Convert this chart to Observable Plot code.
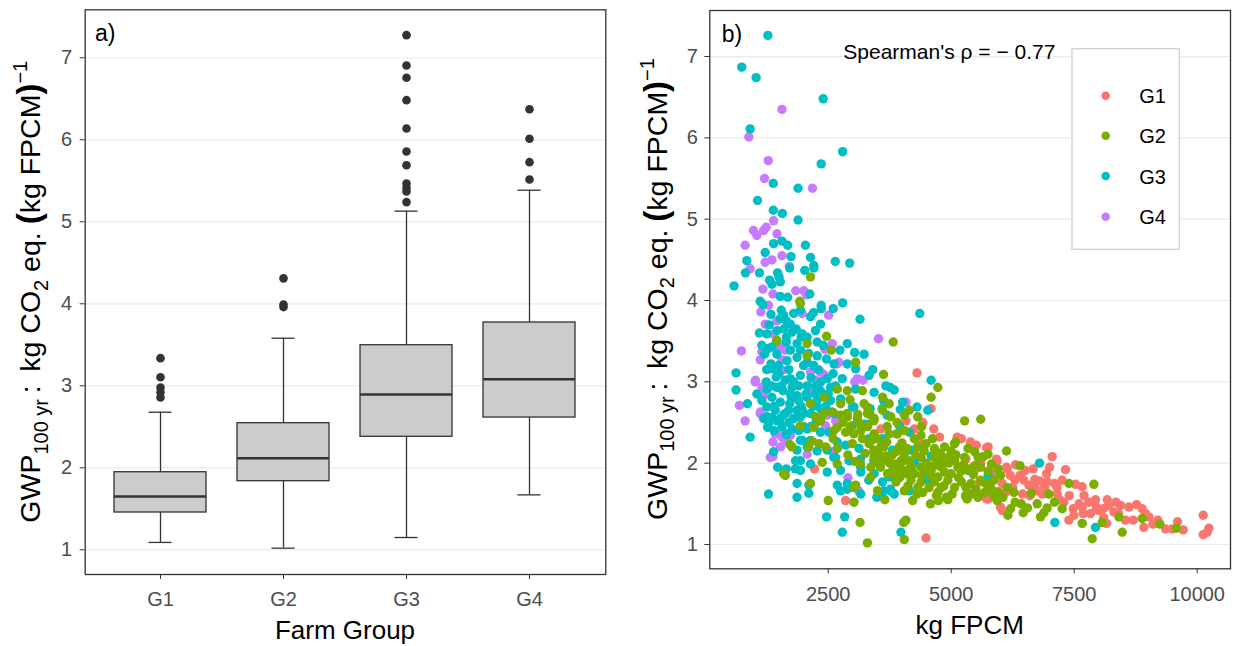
<!DOCTYPE html>
<html><head><meta charset="utf-8">
<script src="https://cdn.jsdelivr.net/npm/d3@7"></script>
<script src="https://cdn.jsdelivr.net/npm/@observablehq/plot@0.6"></script>
<style>
body{margin:0;background:#fff;font-family:"Liberation Sans",Arial,Helvetica,sans-serif}
#wrap{position:relative;width:1238px;height:646px;overflow:hidden}
#a{position:absolute;left:0;top:0}
#b{position:absolute;left:620px;top:0}
</style></head>
<body><div id="wrap"><div id="a"></div><div id="b"></div></div>
<script>
const FONT = '"Liberation Sans", Arial, Helvetica, sans-serif';
const groups = ["G1","G2","G3","G4"];
const groupColors = ["#F8766D","#7CAE00","#00BFC4","#C77CFF"];
const yTicks = [1,2,3,4,5,6,7];
const xTicksB = [2500,5000,7500,10000];

// box plot statistics (panel a)
const boxLow  = [1.09, 1.02, 1.15, 1.67];
const boxQ1   = [1.455, 1.837, 2.378, 2.613];
const boxMed  = [1.65, 2.117, 2.894, 3.08];
const boxQ3   = [1.946, 2.544, 3.495, 3.772];
const boxHigh = [2.678, 3.58, 5.13, 5.385];
const outG1 = [3.337, 3.105, 2.98, 2.92, 2.857];
const outG2 = [4.31, 3.99, 3.96];
const outG3 = [7.276, 6.906, 6.756, 6.483, 6.138, 5.857, 5.69, 5.467, 5.415, 5.37, 5.24];
const outG4 = [6.373, 6.012, 5.727, 5.516];

// scatter points (panel b): [kg FPCM, GWP]
const ptsG1 = [[4305,3.11],[4591,2.67],[4080,2.52],[4421,2.50],[3570,2.42],[4251,2.42],[4762,2.32],[5205,2.30],[5511,2.22],[5750,2.20],[5920,2.05],[2221,1.93],[2854,1.54],[4489,1.08],[5579,1.77],[5750,1.56],[5393,2.26],[5718,2.19],[6125,1.95],[6308,1.98],[6511,1.91],[6667,1.93],[7053,2.08],[6938,1.87],[7324,1.92],[7256,1.79],[7527,1.74],[7663,1.71],[6477,1.79],[6579,1.73],[6680,1.73],[6748,1.66],[6850,1.62],[7154,1.62],[7209,1.55],[7290,1.52],[7480,1.44],[7663,1.46],[7798,1.52],[7934,1.55],[8171,1.55],[8090,1.44],[8306,1.40],[8442,1.48],[8611,1.46],[8767,1.49],[8882,1.44],[7683,1.38],[7493,1.36],[7392,1.30],[7832,1.38],[8002,1.42],[8158,1.26],[8543,1.30],[8916,1.21],[9018,1.34],[9200,1.30],[9356,1.19],[9492,1.19],[9715,1.18],[10122,1.36],[10122,1.12],[10237,1.20],[10203,1.15],[6037,1.75],[5718,1.56],[6104,1.64],[6037,1.42],[6294,1.79],[4646,2.42],[4341,2.26],[5122,2.32],[6002,1.46],[5935,2.03],[6138,1.93],[6951,1.77],[6400,1.85],[6700,1.80],[6900,1.70],[7100,1.75],[6600,1.60],[7400,1.60],[7000,1.95],[8400,1.38],[8700,1.30],[7700,1.60],[8200,1.48],[5300,2.05],[5600,2.00],[5850,1.88],[6200,1.85],[6250,1.70],[6450,1.62],[7150,1.70],[7600,1.50],[7950,1.46],[8100,1.33],[8350,1.52],[8950,1.38],[9100,1.25],[9600,1.28],[5480,1.92],[6800,1.78]];
const ptsG2 = [[2139,4.29],[1935,3.96],[1921,3.99],[2466,3.56],[3822,3.49],[1458,3.51],[2071,3.47],[2561,3.39],[2071,3.32],[3058,3.24],[3624,3.09],[4728,2.93],[4591,2.81],[2684,2.91],[2888,2.89],[3195,2.89],[3604,2.81],[2139,2.73],[2425,2.81],[2752,2.73],[2943,2.78],[3229,2.73],[3740,2.73],[4148,2.65],[2241,2.57],[2412,2.61],[2582,2.63],[2752,2.59],[2888,2.57],[3093,2.55],[3297,2.61],[3433,2.55],[3604,2.65],[3774,2.57],[4046,2.59],[4319,2.57],[5273,2.52],[5600,2.54],[1935,2.46],[2207,2.44],[2684,2.44],[2854,2.38],[3161,2.40],[3433,2.36],[3740,2.36],[3897,2.36],[4387,2.34],[1717,2.23],[1764,2.20],[2105,2.20],[2309,2.24],[2684,2.18],[2990,2.24],[3195,2.30],[3331,2.24],[3570,2.20],[3672,2.09],[3945,2.20],[4046,2.11],[4319,2.20],[4489,2.24],[4660,2.18],[4864,2.20],[5069,2.24],[1594,1.87],[2139,1.75],[2377,2.01],[2684,1.99],[3365,1.83],[3058,1.73],[3024,1.52],[2500,1.54],[3147,1.27],[3297,1.02],[1628,1.85],[3502,1.66],[3652,1.55],[3467,2.01],[3365,1.95],[3808,1.91],[3842,1.99],[4080,1.87],[4182,1.79],[4217,1.54],[4421,1.64],[4578,1.50],[4741,1.54],[4932,1.55],[4080,1.30],[4033,1.27],[4046,1.06],[4387,1.95],[4591,1.91],[4728,1.83],[4251,1.87],[4999,1.87],[5137,1.95],[5205,1.77],[5477,1.97],[5273,2.07],[5545,2.07],[5750,2.11],[5409,1.62],[5681,1.64],[5886,1.58],[4932,2.07],[4796,2.03],[4660,2.07],[3433,2.07],[3604,2.03],[3978,2.03],[4148,2.03],[4387,2.07],[4660,1.97],[4864,1.89],[5069,2.03],[5341,2.18],[5477,2.14],[5613,2.07],[5818,1.99],[5954,1.93],[3978,1.93],[4148,1.93],[3706,1.87],[3876,1.77],[4046,1.66],[4796,1.70],[5069,1.70],[5307,1.58],[5545,1.58],[4728,1.64],[4898,1.58],[4932,1.79],[4387,1.77],[4319,1.70],[4660,1.77],[6125,2.15],[5650,2.08],[5088,2.26],[6396,1.97],[7392,1.75],[7900,1.74],[6626,1.63],[6985,1.62],[7100,1.52],[7256,1.44],[7663,1.26],[8069,1.27],[8408,1.34],[8476,1.15],[7866,1.07],[8882,1.32],[9241,1.25],[9580,1.20],[5359,1.93],[5596,1.79],[5867,1.79],[6003,1.85],[5833,1.66],[5528,1.62],[5325,1.56],[5935,1.54],[6152,1.36],[6206,1.44],[6463,1.39],[6423,1.50],[6816,1.34],[6884,1.39],[6748,1.50],[6138,1.70],[6274,1.64],[5291,1.60],[2175,2.27],[3021,1.70],[2343,2.52],[2614,2.40],[2886,2.61],[3021,2.36],[3427,2.52],[3630,2.20],[3902,2.36],[4037,2.03],[3833,1.87],[3427,2.16],[3563,1.95],[3157,1.99],[3293,2.69],[3800,2.10],[4000,2.25],[4200,1.95],[4500,2.00],[4600,1.85],[4800,1.95],[5000,2.15],[5200,1.90],[5400,1.75],[5600,1.95],[5800,1.70],[4400,1.85],[4700,2.10],[3300,2.45],[3500,2.30],[3900,2.50],[3100,2.60],[2950,2.45],[4250,2.30],[3250,2.12],[3380,2.28],[3520,2.12],[3690,2.26],[3750,2.00],[3880,2.14],[3950,1.82],[4100,2.18],[4120,1.72],[4280,2.10],[4300,1.62],[4450,2.15],[4480,1.90],[4550,1.70],[4620,2.30],[4700,1.60],[4780,2.12],[4850,1.72],[4950,2.00],[5020,1.62],[5100,2.10],[5150,1.82],[5250,1.98],[5300,1.70],[5450,1.86],[5500,1.68],[5700,1.75],[5750,1.90],[5950,1.65],[6050,1.58],[6300,1.52],[6550,1.45],[6950,1.45],[3350,2.60],[3700,2.45],[4050,2.40],[4400,2.45],[3150,2.48],[2800,2.50],[2600,2.30],[2450,2.20],[2900,2.10],[3050,2.02]];
const ptsG3 = [[1274,7.26],[742,6.87],[1035,6.74],[2398,6.48],[913,6.11],[2793,5.83],[2357,5.68],[1383,5.44],[1887,5.38],[1063,5.23],[1383,5.11],[1567,5.07],[1887,4.99],[1390,4.70],[1560,4.73],[1676,4.68],[2037,4.68],[1219,4.59],[1744,4.54],[2139,4.53],[2207,4.43],[2207,4.40],[2643,4.48],[2936,4.46],[845,4.49],[817,4.34],[1104,4.34],[1717,4.40],[1471,4.34],[1499,4.29],[2023,4.37],[586,4.18],[1308,4.25],[1356,4.20],[1526,4.23],[1526,4.05],[1676,4.04],[2125,4.08],[1117,3.99],[1172,3.95],[2357,3.94],[2357,3.90],[2602,3.90],[2793,3.97],[4360,3.84],[1335,3.83],[1546,3.88],[2139,3.80],[3147,3.77],[1935,3.88],[1526,3.78],[1730,3.71],[1458,3.63],[1594,3.65],[1764,3.61],[1969,3.59],[2241,3.63],[2343,3.71],[1356,3.43],[1287,3.41],[1648,3.49],[1866,3.47],[2275,3.49],[2888,3.47],[2738,3.39],[3038,3.36],[3229,3.34],[1206,3.34],[1335,3.22],[1492,3.20],[1662,3.26],[1866,3.30],[2071,3.24],[2275,3.32],[2207,3.20],[2466,3.28],[2616,3.22],[2888,3.22],[3058,3.16],[3406,3.15],[627,3.11],[1356,3.16],[1240,3.00],[1444,3.06],[1730,3.04],[1935,3.08],[2480,3.04],[2786,3.04],[3331,3.08],[3672,2.95],[3761,2.93],[3842,2.90],[4591,3.02],[627,2.90],[1253,2.91],[1458,2.93],[1580,2.89],[1764,2.93],[1900,2.95],[2241,2.95],[2343,2.89],[2548,2.93],[3058,2.91],[3433,2.87],[858,2.73],[1151,2.77],[1356,2.81],[1526,2.75],[1717,2.73],[1900,2.77],[2071,2.81],[2275,2.77],[2548,2.77],[3024,2.69],[3352,2.67],[3624,2.77],[4012,2.75],[4305,2.69],[4523,2.65],[913,2.32],[1185,2.55],[1287,2.48],[1356,2.56],[1526,2.55],[1628,2.61],[1798,2.55],[1935,2.57],[2139,2.61],[2990,2.69],[3965,2.66],[1267,2.44],[1560,2.45],[1764,2.42],[2071,2.42],[2514,2.38],[2990,2.46],[3297,2.48],[3604,2.30],[3945,2.46],[4148,2.38],[1390,2.14],[1935,2.28],[1866,2.16],[2139,2.28],[2275,2.15],[2650,2.07],[2854,2.22],[3127,2.18],[3433,2.14],[3808,2.16],[4182,2.16],[4591,2.09],[1471,1.95],[1648,1.93],[1832,1.93],[1935,2.03],[2139,1.99],[1866,1.75],[2105,1.73],[2480,1.89],[2752,1.91],[2922,2.03],[3161,1.95],[3161,1.89],[2888,1.75],[2684,1.73],[3161,1.62],[2466,1.34],[2834,1.34],[2786,1.15],[1287,1.62],[1866,1.58],[2105,1.63],[3740,1.83],[3604,1.77],[3570,1.64],[3774,1.66],[3842,1.62],[3488,1.58],[4148,1.66],[3978,1.15],[4523,1.79],[5341,1.91],[5750,1.85],[6795,2.00],[7107,1.27],[7934,1.21],[1253,3.59],[1458,3.34],[1730,3.39],[1935,3.39],[2071,3.55],[1594,3.82],[1798,3.84],[1628,3.02],[1866,2.83],[2071,2.95],[1253,2.69],[1424,2.65],[1696,2.65],[1866,2.65],[2003,2.61],[1730,2.85],[2241,2.85],[2343,2.67],[2616,2.61],[2752,2.79],[3706,2.03],[4251,2.01],[3433,1.87],[1937,1.91],[1835,2.03],[2073,2.20],[1972,2.28],[2480,2.16],[2614,2.07],[2953,2.03],[3157,2.05],[3427,2.03],[3325,1.79],[2750,1.66],[2886,1.68],[3630,1.66],[3766,1.68],[1260,2.57],[1463,2.52],[1801,2.55],[1972,2.65],[2343,2.38],[2683,2.26],[3224,2.48],[3325,2.30],[3597,2.67],[3699,2.59],[1100,3.60],[1300,3.70],[1650,3.55],[1850,3.65],[2100,3.35],[2400,3.45],[1500,3.10],[1700,3.15],[1800,3.00],[2000,3.20],[2150,3.05],[2350,3.00],[2600,3.10],[1400,2.70],[1600,2.60],[1950,2.70],[2200,2.70],[1050,2.85],[1350,2.95],[2450,2.70],[1700,2.50],[2000,2.45],[2250,2.50],[1150,3.45],[1250,3.15],[1450,3.50],[1650,3.75],[1950,3.55],[2200,3.85],[1550,2.95],[1750,2.80],[2050,2.85],[2300,3.15],[2500,2.85],[2650,2.95],[1400,2.40],[1650,2.35],[1900,2.40],[2150,2.45],[2350,2.55]];
const ptsG4 = [[1560,6.35],[886,6.01],[1281,5.72],[1206,5.50],[2180,5.38],[1390,4.98],[981,4.86],[1049,4.80],[1185,4.86],[1240,4.90],[1458,4.82],[811,4.68],[1219,4.47],[1356,4.50],[1560,4.55],[913,4.39],[1710,4.42],[1172,4.14],[1376,4.08],[1839,4.12],[2003,4.12],[2057,4.07],[1287,3.94],[1131,3.86],[1969,3.84],[2507,3.82],[1390,3.59],[1505,3.43],[2582,3.47],[2432,3.40],[3522,3.53],[736,3.38],[1151,3.37],[1117,3.27],[1560,3.27],[2718,3.24],[1022,3.02],[1015,3.00],[1560,3.14],[2139,3.12],[2412,3.09],[3093,3.04],[3208,3.02],[1151,2.93],[2105,2.91],[695,2.71],[1185,2.83],[4080,2.75],[811,2.52],[1117,2.61],[1594,2.38],[1376,2.26],[1560,2.32],[1730,2.34],[2446,2.46],[2650,2.52],[2582,2.14],[1376,2.08],[2902,1.82],[1458,3.75],[1219,3.71],[1628,3.39],[1322,2.07],[1424,2.36],[1628,2.28],[2071,2.11],[2241,3.02],[2343,3.12],[2670,3.22],[3038,3.00],[1124,2.63],[1598,2.34],[1699,2.36],[1530,2.20],[2480,2.59],[2683,2.46],[3116,1.66]];

// ---------- Panel a: box plot ----------
const boxRows = groups.map((g, i) => ({group: g, low: boxLow[i], q1: boxQ1[i], med: boxMed[i], q3: boxQ3[i], high: boxHigh[i]}));
const outRows = [
  ...outG1.map(v => ({group: "G1", v})),
  ...outG2.map(v => ({group: "G2", v})),
  ...outG3.map(v => ({group: "G3", v})),
  ...outG4.map(v => ({group: "G4", v}))
];
const dark = "#333333";
const left = Plot.plot({
  width: 620, height: 646,
  marginLeft: 84.7, marginRight: 14.7, marginTop: 9.3, marginBottom: 72,
  style: {fontFamily: FONT, fontSize: "20px", background: "transparent"},
  x: {type: "band", domain: groups, paddingInner: 0.25, paddingOuter: 0.225, label: null},
  y: {domain: [0.699, 7.585], label: null},
  marks: [
    Plot.gridY(yTicks, {stroke: "#ebebeb", strokeOpacity: 1, strokeWidth: 1.2}),
    Plot.ruleX(boxRows, {x: "group", y1: "low", y2: "q1", stroke: dark, strokeWidth: 1.3}),
    Plot.ruleX(boxRows, {x: "group", y1: "q3", y2: "high", stroke: dark, strokeWidth: 1.3}),
    Plot.tickY(boxRows, {x: "group", y: "low", insetLeft: 34.5, insetRight: 34.5, stroke: dark, strokeWidth: 1.3}),
    Plot.tickY(boxRows, {x: "group", y: "high", insetLeft: 34.5, insetRight: 34.5, stroke: dark, strokeWidth: 1.3}),
    Plot.barY(boxRows, {x: "group", y1: "q1", y2: "q3", fill: "#cccccc", stroke: dark, strokeWidth: 1.3}),
    Plot.tickY(boxRows, {x: "group", y: "med", stroke: dark, strokeWidth: 2.6}),
    Plot.dot(outRows, {x: "group", y: "v", r: 4.3, fill: dark, stroke: null}),
    Plot.frame({stroke: dark, strokeWidth: 1.3}),
    Plot.axisY(yTicks, {tickSize: 5, tickPadding: 8, fontSize: 20, stroke: dark, fill: "#4d4d4d", label: null, tickFormat: d => String(d)}),
    Plot.axisX({tickSize: 5, tickPadding: 12.5, fontSize: 20, stroke: dark, fill: "#4d4d4d", label: null})
  ]
});
document.getElementById("a").appendChild(left);

// ---------- Panel b: scatter ----------
const scatterRows = [];
const order = [3, 0, 2, 1];
const allPts = [ptsG1, ptsG2, ptsG3, ptsG4];
for (const gi of order) for (const [x, y] of allPts[gi]) scatterRows.push({group: groups[gi], fpcm: x, gwp: y});
const right = Plot.plot({
  width: 618, height: 646,
  marginLeft: 89.3, marginRight: 8, marginTop: 10, marginBottom: 77.7,
  style: {fontFamily: FONT, fontSize: "20px", background: "transparent"},
  x: {domain: [93, 10677], label: null},
  y: {domain: [0.701, 7.566], label: null},
  color: {domain: groups, range: groupColors},
  marks: [
    Plot.gridY(yTicks, {stroke: "#ebebeb", strokeOpacity: 1, strokeWidth: 1.2}),
    Plot.dot(scatterRows, {x: "fpcm", y: "gwp", fill: "group", r: 4.7, stroke: null}),
    Plot.frame({stroke: dark, strokeWidth: 1.3}),
    Plot.axisY(yTicks, {tickSize: 5, tickPadding: 7, fontSize: 20, stroke: dark, fill: "#4d4d4d", label: null, tickFormat: d => String(d)}),
    Plot.axisX(xTicksB, {tickSize: 5, tickPadding: 12.5, fontSize: 20, stroke: dark, fill: "#4d4d4d", label: null, tickFormat: d3.format("d")})
  ]
});
document.getElementById("b").appendChild(right);

// ---------- titles and annotations ----------
function yTitle(svg, x, y) {
  const t = d3.select(svg).append("text")
    .attr("transform", `translate(${x},${y}) rotate(-90)`)
    .attr("text-anchor", "middle").attr("font-size", 28.5).attr("fill", "#000")
    .attr("font-family", FONT);
  t.append("tspan").text("GWP");
  t.append("tspan").attr("font-size", 20).attr("dy", 7.5).text("100 yr");
  t.append("tspan").attr("dy", -7.5).text("\u2009:\u2009 kg CO");
  t.append("tspan").attr("font-size", 20).attr("dy", 7.5).text("2");
  t.append("tspan").attr("dy", -7.5).text(" eq. ");
  t.append("tspan").attr("font-size", 33).attr("font-weight", "bold").text("(");
  t.append("tspan").text("kg FPCM");
  t.append("tspan").attr("font-size", 33).attr("font-weight", "bold").text(")");
  t.append("tspan").attr("font-size", 20).attr("dy", -13).text("\u22121");
}
function xTitle(svg, x, y, label) {
  d3.select(svg).append("text").attr("x", x).attr("y", y).attr("text-anchor", "middle")
    .attr("font-size", 26).attr("fill", "#000").attr("font-family", FONT).text(label);
}
function tag(svg, x, y, label) {
  d3.select(svg).append("text").attr("x", x).attr("y", y).attr("text-anchor", "start")
    .attr("font-size", 23).attr("fill", "#000").attr("font-family", FONT).text(label);
}
yTitle(left, 40, 291.7);
xTitle(left, 345, 638.5, "Farm Group");
tag(left, 95, 41, "a)");

yTitle(right, 46.7, 289);
xTitle(right, 349.7, 634.3, "kg FPCM");
tag(right, 101.7, 42, "b)");

// Spearman annotation
const sp = d3.select(right).append("text").attr("x", 223.3).attr("y", 59).attr("text-anchor", "start")
  .attr("font-size", 21).attr("fill", "#000").attr("font-family", FONT);
sp.append("tspan").text("Spearman's ");
sp.append("tspan").text("\u03C1");
sp.append("tspan").text(" = \u2212 0.77");

// legend
const lg = d3.select(right).append("g");
lg.append("rect").attr("x", 452).attr("y", 48.7).attr("width", 107.3).attr("height", 200.6)
  .attr("fill", "#fff").attr("stroke", "#d0d0d0").attr("stroke-width", 1.3);
const legendY = [95.7, 135.7, 176, 216.7];
groups.forEach((g, i) => {
  lg.append("circle").attr("cx", 485.7).attr("cy", legendY[i]).attr("r", 4.3).attr("fill", groupColors[i]);
  lg.append("text").attr("x", 519.3).attr("y", legendY[i] + 7.5).attr("text-anchor", "start").attr("font-size", 20)
    .attr("fill", "#000").attr("font-family", FONT).text(g);
});
</script>
</body></html>
